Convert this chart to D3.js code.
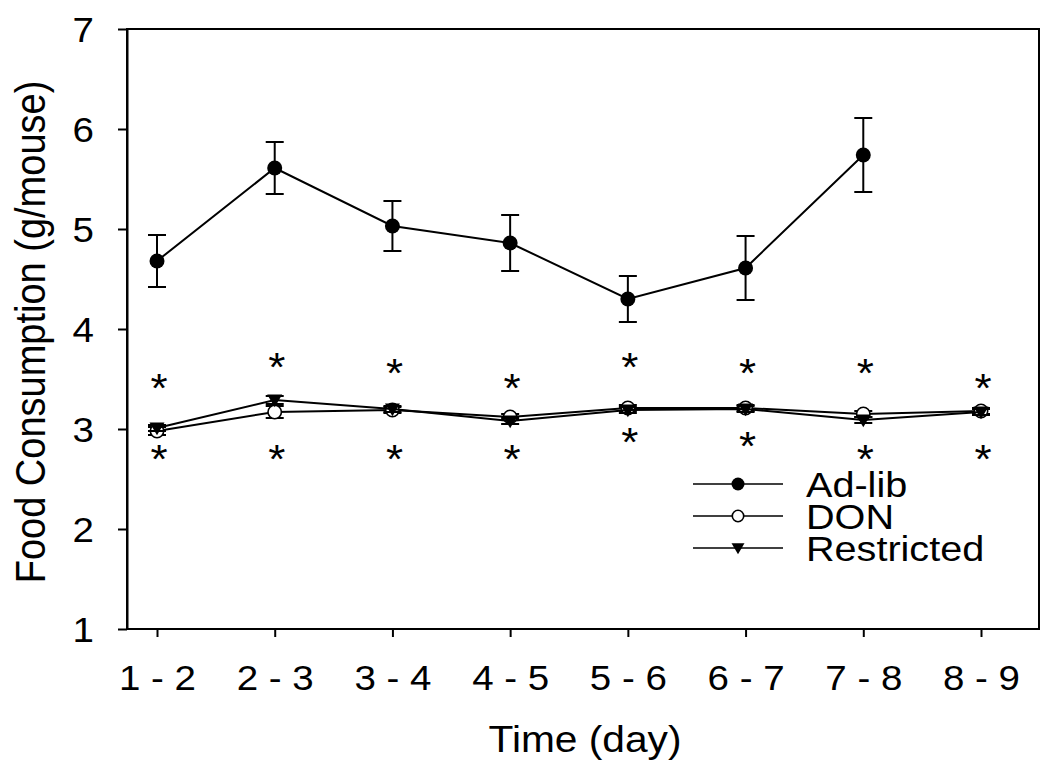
<!DOCTYPE html>
<html>
<head>
<meta charset="utf-8">
<script src="https://cdn.jsdelivr.net/npm/d3@7"></script>
<style>
  html, body { margin: 0; padding: 0; background: #fff; }
  svg text { font-family: "Liberation Sans", Arial, sans-serif; fill: #000; }
</style>
</head>
<body>
<svg id="chart" width="1050" height="769"></svg>
<script>
// ---- data ----
const categories = ["1 - 2", "2 - 3", "3 - 4", "4 - 5", "5 - 6", "6 - 7", "7 - 8", "8 - 9"];
const adlib      = [4.68, 5.61, 5.03, 4.86, 4.30, 4.61, 5.74];
const adlibErr   = [0.26, 0.26, 0.25, 0.28, 0.23, 0.32, 0.37];
const don        = [2.98, 3.17, 3.19, 3.12, 3.21, 3.21, 3.15, 3.18];
const donErr     = [0.04, 0.06, 0.03, 0.03, 0.03, 0.03, 0.03, 0.03];
const restricted = [3.01, 3.29, 3.20, 3.08, 3.19, 3.20, 3.09, 3.17];
const restrictedErr = [0.03, 0.04, 0.03, 0.03, 0.03, 0.03, 0.03, 0.03];
const starsAbove = [3.48, 3.69, 3.63, 3.48, 3.69, 3.63, 3.63, 3.48];
const starsBelow = [2.77, 2.77, 2.77, 2.77, 2.94, 2.90, 2.77, 2.77];
const yTicks = [1, 2, 3, 4, 5, 6, 7];
const legendLabels = ["Ad-lib", "DON", "Restricted"];

// ---- layout ----
const svg = d3.select("#chart");
svg.append("rect").attr("width", 1050).attr("height", 769).attr("fill", "#fff");
const plot = { left: 127, right: 1039, top: 29, bottom: 629 };
const x = d3.scalePoint().domain(categories).range([157, 981]);
const y = d3.scaleLinear().domain([1, 7]).range([plot.bottom, plot.top]);
const SX = 1.1; // horizontal text stretch

// frame
svg.append("rect")
  .attr("x", plot.left).attr("y", plot.top)
  .attr("width", plot.right - plot.left).attr("height", plot.bottom - plot.top)
  .attr("fill", "none").attr("stroke", "#000").attr("stroke-width", 2);

// y axis
const yAxis = svg.append("g").attr("transform", `translate(${plot.left},0)`)
  .call(d3.axisLeft(y).tickValues(yTicks).tickFormat(d3.format("d")).tickSize(9).tickSizeOuter(0));
yAxis.select(".domain").attr("stroke-width", 2);
yAxis.selectAll(".tick line").attr("stroke-width", 2);
yAxis.selectAll(".tick text")
  .attr("x", -33 / SX).attr("dy", "0.36em")
  .attr("transform", `scale(${SX},1)`)
  .style("font-size", "35px");

// x axis
const xAxis = svg.append("g").attr("transform", `translate(0,${plot.bottom})`)
  .call(d3.axisBottom(x).tickSize(8).tickSizeOuter(0));
xAxis.select(".domain").remove();
xAxis.selectAll(".tick line").attr("stroke-width", 2);
xAxis.selectAll(".tick text")
  .attr("y", 61).attr("dy", 0)
  .attr("transform", `scale(${SX},1)`)
  .style("font-size", "35px");

// axis titles
svg.append("text")
  .attr("transform", `translate(585,752) scale(${SX},1)`)
  .attr("text-anchor", "middle").style("font-size", "37px")
  .text("Time (day)");
svg.append("text")
  .attr("transform", `translate(45,332) rotate(-90) scale(1,${SX})`)
  .attr("text-anchor", "middle").style("font-size", "38px")
  .text("Food Consumption (g/mouse)");

// helpers
const line = d3.line().x(d => x(d.c)).y(d => y(d.v));
function series(vals, errs) {
  return vals.map((v, i) => ({ c: categories[i], v, e: errs[i] }));
}
function drawErr(data) {
  const g = svg.append("g").attr("stroke", "#000").attr("stroke-width", 2);
  data.forEach(d => {
    g.append("line").attr("x1", x(d.c)).attr("x2", x(d.c)).attr("y1", y(d.v - d.e)).attr("y2", y(d.v + d.e));
    [d.v - d.e, d.v + d.e].forEach(t => {
      g.append("line").attr("x1", x(d.c) - 9).attr("x2", x(d.c) + 9).attr("y1", y(t)).attr("y2", y(t));
    });
  });
}
function drawLine(data) {
  svg.append("path").datum(data).attr("d", line)
    .attr("fill", "none").attr("stroke", "#000").attr("stroke-width", 2);
}
const tri = r => `M${-r},${-r * 0.75}L${r},${-r * 0.75}L0,${r * 0.95}Z`;
function marker(g, kind, cx, cy, r) {
  if (kind === 0) {
    g.append("circle").attr("cx", cx).attr("cy", cy).attr("r", r).attr("fill", "#000");
  } else if (kind === 1) {
    g.append("circle").attr("cx", cx).attr("cy", cy).attr("r", r - 0.8)
      .attr("fill", "#fff").attr("stroke", "#000").attr("stroke-width", 1.6);
  } else {
    g.append("path").attr("d", tri(r)).attr("transform", `translate(${cx},${cy})`).attr("fill", "#000");
  }
}

const sAd = series(adlib, adlibErr);
const sDon = series(don, donErr);
const sRes = series(restricted, restrictedErr);

// Ad-lib
drawErr(sAd); drawLine(sAd);
const gAd = svg.append("g");
sAd.forEach(d => marker(gAd, 0, x(d.c), y(d.v), 7.5));

// DON
drawErr(sDon); drawLine(sDon);
const gDon = svg.append("g");
sDon.forEach(d => marker(gDon, 1, x(d.c), y(d.v), 7.5));

// Restricted
drawErr(sRes); drawLine(sRes);
const gRes = svg.append("g");
sRes.forEach(d => marker(gRes, 2, x(d.c), y(d.v), 7.5));

// significance stars
const gStars = svg.append("g");
[starsAbove, starsBelow].forEach(arr => {
  arr.forEach((v, i) => {
    gStars.append("text")
      .attr("transform", `translate(${x(categories[i]) + 2},${y(v) + 21}) scale(${SX},1)`)
      .attr("text-anchor", "middle").style("font-size", "40px")
      .text("*");
  });
});

// legend
const legY = [484, 516, 548];
const gLeg = svg.append("g");
legendLabels.forEach((lab, i) => {
  gLeg.append("line").attr("x1", 693).attr("x2", 783).attr("y1", legY[i]).attr("y2", legY[i])
    .attr("stroke", "#000").attr("stroke-width", 1.6);
  marker(gLeg, i, 738, legY[i], 6.5);
  gLeg.append("text")
    .attr("transform", `translate(806,${legY[i] + 13}) scale(${SX},1)`)
    .style("font-size", "36px").text(lab);
});
</script>
</body>
</html>
